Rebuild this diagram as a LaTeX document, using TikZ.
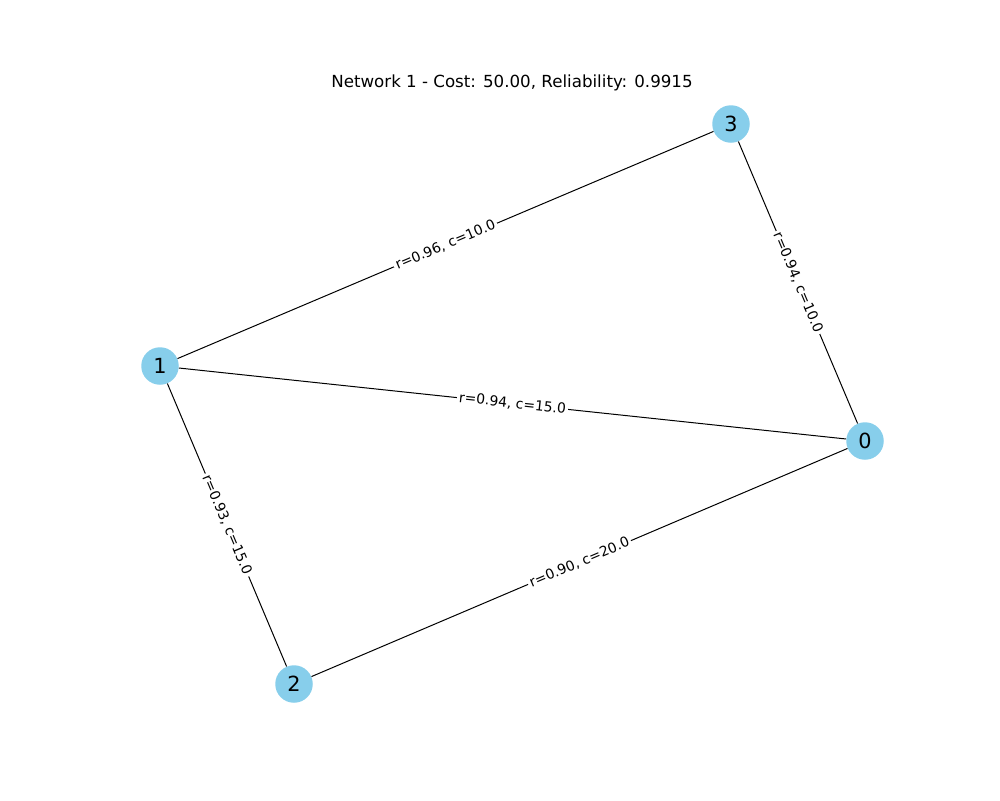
\documentclass[tikz,border=0pt]{standalone}
\usepackage{fontspec}
\setmainfont{DejaVu Sans}
\definecolor{skyblue}{HTML}{87CEEB}
\begin{document}
\begin{tikzpicture}[x=0.72pt,y=-0.72pt,
  vert/.style={circle,fill=skyblue,minimum size=27pt,inner sep=0pt,font=\fontsize{15pt}{17pt}\selectfont},
  edge/.style={draw=black,line width=0.72pt},
  elab/.style={midway,sloped,fill=white,inner sep=1.5pt,font=\fontsize{10pt}{12pt}\selectfont}]
\useasboundingbox (0,0) rectangle (1000,800);
\node[font=\fontsize{12pt}{14pt}\selectfont] (title) at (512,83) {Network 1 - Cost: 50.00, Reliability: 0.9915};
\node[vert] (n0) at (865,441) {0};
\node[vert] (n1) at (160,366) {1};
\node[vert] (n2) at (294,684) {2};
\node[vert] (n3) at (731,124) {3};
\path[edge] (n1) -- node[elab] {r=0.96, c=10.0} (n3);
\path[edge] (n3) -- node[elab] {r=0.94, c=10.0} (n0);
\path[edge] (n1) -- node[elab] {r=0.94, c=15.0} (n0);
\path[edge] (n1) -- node[elab] {r=0.93, c=15.0} (n2);
\path[edge] (n2) -- node[elab] {r=0.90, c=20.0} (n0);
\end{tikzpicture}
\end{document}
